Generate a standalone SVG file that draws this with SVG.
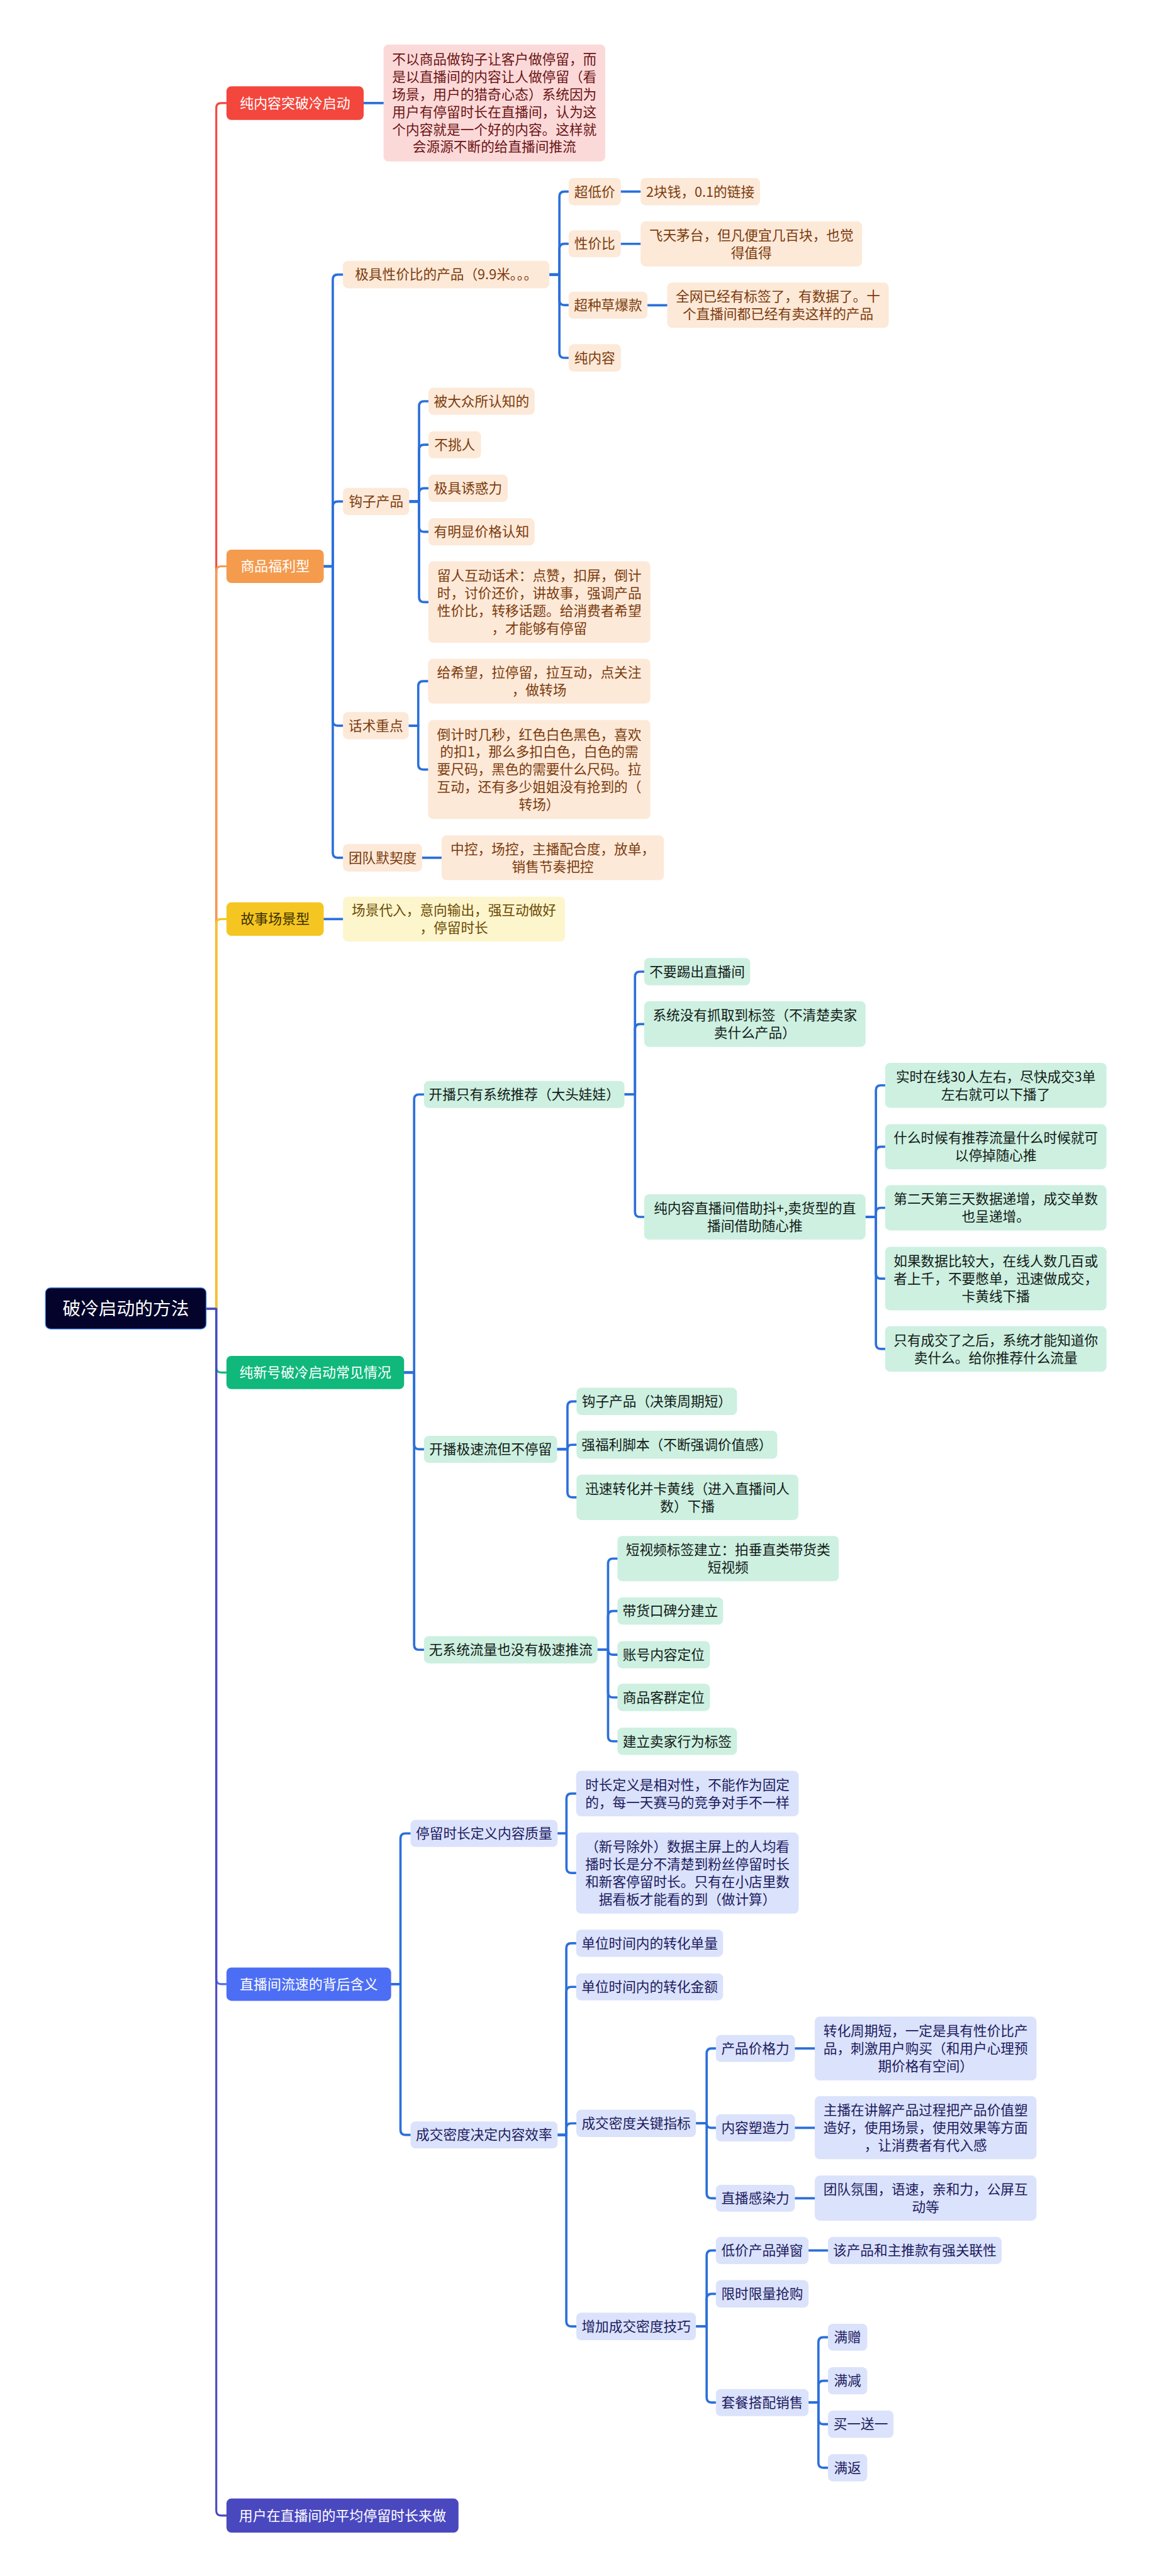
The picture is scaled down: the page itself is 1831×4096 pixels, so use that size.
<svg xmlns="http://www.w3.org/2000/svg" width="1831" height="4096" viewBox="0 0 1831 4096">
<style>
.t{font-family:"Noto Sans CJK SC","Noto Sans",sans-serif;font-size:8.3px;text-anchor:middle}
.mt{font-family:"Noto Sans CJK SC","Noto Sans",sans-serif;font-size:8.4px;text-anchor:middle;fill:#ffffff}
.rt{font-family:"Noto Sans CJK SC","Noto Sans",sans-serif;font-size:11px;text-anchor:middle;fill:#ffffff}
.pe{fill:#fde9d8}.pet{fill:#7b3b0d}
.pk{fill:#fcd9d9}.pkt{fill:#6a1414}
.ye{fill:#fdf5cc}.yet{fill:#6a4a04}
.mi{fill:#cdf0e1}.mit{fill:#121a16}
.la{fill:#dbe2fb}.lat{fill:#1b1b5e}
.c{fill:none;stroke:#2b6fdb;stroke-width:1.4;stroke-linejoin:round;stroke-linecap:round}
.tr{fill:none;stroke-width:1.2;stroke-linejoin:round}
</style>
<rect x="0" y="0" width="1831" height="4096" fill="#ffffff"/>
<g transform="scale(2.612)">
<g id="connectors">
<path class="tr" stroke="#f3463d" d="M125.4 796.7 H131.6 V65.75 Q131.6 62.75 134.6 62.75 H137.8"/>
<path class="tr" stroke="#f49b4e" d="M125.4 796.7 H131.6 V347.75 Q131.6 344.75 134.6 344.75 H137.8"/>
<path class="tr" stroke="#f5c622" d="M125.4 796.7 H131.6 V562.5 Q131.6 559.5 134.6 559.5 H137.8"/>
<path class="tr" stroke="#10b87c" d="M125.4 796.7 H131.6 V832.5 Q131.6 835.5 134.6 835.5 H137.8"/>
<path class="tr" stroke="#4c6ef5" d="M125.4 796.7 H131.6 V1204.85 Q131.6 1207.85 134.6 1207.85 H137.8"/>
<path class="tr" stroke="#4a48bf" d="M125.4 796.7 H131.6 V1528.35 Q131.6 1531.35 134.6 1531.35 H137.8"/>

<path class="c" d="M221.3 62.75 H233.4"/>

<path class="c" d="M197 344.75 H202.5 V170.15 Q202.5 167.15 205.5 167.15 H208.7"/>
<path class="c" d="M197 344.75 H202.5 V308.3 Q202.5 305.3 205.5 305.3 H208.7"/>
<path class="c" d="M197 344.75 H202.5 V438.75 Q202.5 441.75 205.5 441.75 H208.7"/>
<path class="c" d="M197 344.75 H202.5 V519.15 Q202.5 522.15 205.5 522.15 H208.7"/>

<path class="c" d="M334.3 167.15 H340.4 V119.65 Q340.4 116.65 343.4 116.65 H346"/>
<path class="c" d="M334.3 167.15 H340.4 V151.4 Q340.4 148.4 343.4 148.4 H346"/>
<path class="c" d="M334.3 167.15 H340.4 V182.75 Q340.4 185.75 343.4 185.75 H346"/>
<path class="c" d="M334.3 167.15 H340.4 V214.85 Q340.4 217.85 343.4 217.85 H346"/>
<path class="c" d="M377.8 116.65 H389.8"/>
<path class="c" d="M377.8 148.45 H389.8"/>
<path class="c" d="M394 185.8 H406"/>

<path class="c" d="M249 305.3 H255 V247.25 Q255 244.25 258 244.25 H260.7"/>
<path class="c" d="M249 305.3 H255 V273.75 Q255 270.75 258 270.75 H260.7"/>
<path class="c" d="M249 305.3 H255 V300.25 Q255 297.25 258 297.25 H260.7"/>
<path class="c" d="M249 305.3 H255 V320.75 Q255 323.75 258 323.75 H260.7"/>
<path class="c" d="M249 305.3 H255 V363.5 Q255 366.5 258 366.5 H260.7"/>

<path class="c" d="M248.7 441.75 H254.5 V417.65 Q254.5 414.65 257.5 414.65 H260.5"/>
<path class="c" d="M248.7 441.75 H254.5 V465.45 Q254.5 468.45 257.5 468.45 H260.5"/>
<path class="c" d="M256.9 522.15 H268.7"/>

<path class="c" d="M197 559.5 H208.7"/>

<path class="c" d="M245.9 835.5 H252 V669.25 Q252 666.25 255 666.25 H258"/>
<path class="c" d="M245.9 835.5 H252 V879.25 Q252 882.25 255 882.25 H258"/>
<path class="c" d="M245.9 835.5 H252 V1001.3 Q252 1004.3 255 1004.3 H258"/>

<path class="c" d="M380 666.25 H386.4 V594.5 Q386.4 591.5 389.4 591.5 H392"/>
<path class="c" d="M380 666.25 H386.4 V626.4 Q386.4 623.4 389.4 623.4 H392"/>
<path class="c" d="M380 666.25 H386.4 V737.8 Q386.4 740.8 389.4 740.8 H392"/>

<path class="c" d="M526.7 740.8 H533 V663.7 Q533 660.7 536 660.7 H538.6"/>
<path class="c" d="M526.7 740.8 H533 V701.05 Q533 698.05 536 698.05 H538.6"/>
<path class="c" d="M526.7 740.8 H533 V738.25 Q533 735.25 536 735.25 H538.6"/>
<path class="c" d="M526.7 740.8 H533 V775.35 Q533 778.35 536 778.35 H538.6"/>
<path class="c" d="M526.7 740.8 H533 V818.15 Q533 821.15 536 821.15 H538.6"/>

<path class="c" d="M339 882.25 H345.3 V856.1 Q345.3 853.1 348.3 853.1 H350.8"/>
<path class="c" d="M339 882.25 H345.3 Q345.3 879.5 348 879.5 H350.8"/>
<path class="c" d="M339 882.25 H345.3 V908.5 Q345.3 911.5 348.3 911.5 H350.8"/>

<path class="c" d="M363.6 1004.3 H370 V951.8 Q370 948.8 373 948.8 H375.7"/>
<path class="c" d="M363.6 1004.3 H370 V983.7 Q370 980.7 373 980.7 H375.7"/>
<path class="c" d="M363.6 1004.3 H370 Q370 1007.3 373 1007.3 H375.7"/>
<path class="c" d="M363.6 1004.3 H370 V1030.3 Q370 1033.3 373 1033.3 H375.7"/>
<path class="c" d="M363.6 1004.3 H370 V1057 Q370 1060 373 1060 H375.7"/>

<path class="c" d="M238 1207.85 H243.7 V1119.1 Q243.7 1116.1 246.7 1116.1 H249.8"/>
<path class="c" d="M238 1207.85 H243.7 V1296.6 Q243.7 1299.6 246.7 1299.6 H249.8"/>

<path class="c" d="M339.3 1116.1 H344.7 V1094.85 Q344.7 1091.85 347.7 1091.85 H350.6"/>
<path class="c" d="M339.3 1116.1 H344.7 V1137.2 Q344.7 1140.2 347.7 1140.2 H350.6"/>

<path class="c" d="M339.3 1299.6 H344.6 V1185.95 Q344.6 1182.95 347.6 1182.95 H350.6"/>
<path class="c" d="M339.3 1299.6 H344.6 V1212.5 Q344.6 1209.5 347.6 1209.5 H350.6"/>
<path class="c" d="M339.3 1299.6 H344.6 V1295.6 Q344.6 1292.6 347.6 1292.6 H350.6"/>
<path class="c" d="M339.3 1299.6 H344.6 V1413.2 Q344.6 1416.2 347.6 1416.2 H350.6"/>

<path class="c" d="M423.5 1292.6 H430 V1250 Q430 1247 433 1247 H435.6"/>
<path class="c" d="M423.5 1292.6 H430 Q430 1295.3 432.7 1295.3 H435.6"/>
<path class="c" d="M423.5 1292.6 H430 V1335.2 Q430 1338.2 433 1338.2 H435.6"/>
<path class="c" d="M483.7 1247 H495.8"/>
<path class="c" d="M483.7 1295.3 H495.8"/>
<path class="c" d="M483.7 1338.2 H495.8"/>

<path class="c" d="M423.5 1416.2 H430 V1373 Q430 1370 433 1370 H435.6"/>
<path class="c" d="M423.5 1416.2 H430 V1399.4 Q430 1396.4 433 1396.4 H435.6"/>
<path class="c" d="M423.5 1416.2 H430 V1459.55 Q430 1462.55 433 1462.55 H435.6"/>
<path class="c" d="M492 1370 H503.8"/>

<path class="c" d="M492 1462.55 H498 V1425.8 Q498 1422.8 501 1422.8 H503.8"/>
<path class="c" d="M492 1462.55 H498 V1452.3 Q498 1449.3 501 1449.3 H503.8"/>
<path class="c" d="M492 1462.55 H498 V1472.75 Q498 1475.75 501 1475.75 H503.8"/>
<path class="c" d="M492 1462.55 H498 V1499.25 Q498 1502.25 501 1502.25 H503.8"/>
</g>

<g id="root"><rect x="27.7" y="784" width="97.7" height="25" rx="3" fill="#03032b" stroke="#2f6fd6" stroke-width="0.5"/><text class="rt" x="76.55" y="800.4">破冷启动的方法</text></g>

<g id="m1"><rect x="137.8" y="52.5" width="83.5" height="20.5" rx="3" fill="#f3463d"/><text class="mt" x="179.55" y="65.8">纯内容突破冷启动</text></g>
<g id="m1a"><rect class="pk" x="233.4" y="27.1" width="134.9" height="71.2" rx="3"/><text class="t pkt"><tspan x="300.85" y="38.95">不以商品做钩子让客户做停留，而</tspan><tspan x="300.85" y="49.65">是以直播间的内容让人做停留（看</tspan><tspan x="300.85" y="60.35">场景，用户的猎奇心态）系统因为</tspan><tspan x="300.85" y="71.05">用户有停留时长在直播间，认为这</tspan><tspan x="300.85" y="81.75">个内容就是一个好的内容。这样就</tspan><tspan x="300.85" y="92.45">会源源不断的给直播间推流</tspan></text></g>

<g id="m2"><rect x="137.8" y="334.6" width="59.2" height="20.3" rx="3" fill="#f49b4e"/><text class="mt" x="167.4" y="347.8">商品福利型</text></g>
<g id="o1"><rect class="pe" x="208.7" y="158.8" width="125.6" height="16.7" rx="3"/><text class="t pet" x="271.5" y="170.15">极具性价比的产品（9.9米。。。</text></g>
<g id="o1a"><rect class="pe" x="346" y="108.3" width="31.8" height="16.7" rx="3"/><text class="t pet" x="361.9" y="119.65">超低价</text></g>
<g id="o1a1"><rect class="pe" x="389.8" y="108.3" width="72.7" height="16.7" rx="3"/><text class="t pet" x="426.15" y="119.65">2块钱，0.1的链接</text></g>
<g id="o1b"><rect class="pe" x="346" y="140.2" width="31.8" height="16.4" rx="3"/><text class="t pet" x="361.9" y="151.4">性价比</text></g>
<g id="o1b1"><rect class="pe" x="389.8" y="134.8" width="134.8" height="27.4" rx="3"/><text class="t pet"><tspan x="457.2" y="146.15">飞天茅台，但凡便宜几百块，也觉</tspan><tspan x="457.2" y="156.85">得值得</tspan></text></g>
<g id="o1c"><rect class="pe" x="346" y="177.5" width="48" height="16.5" rx="3"/><text class="t pet" x="370" y="188.75">超种草爆款</text></g>
<g id="o1c1"><rect class="pe" x="406" y="172" width="134.8" height="27.6" rx="3"/><text class="t pet"><tspan x="473.4" y="183.45">全网已经有标签了，有数据了。十</tspan><tspan x="473.4" y="194.15">个直播间都已经有卖这样的产品</tspan></text></g>
<g id="o1d"><rect class="pe" x="346" y="209.5" width="31.8" height="16.7" rx="3"/><text class="t pet" x="361.9" y="220.85">纯内容</text></g>
<g id="o2"><rect class="pe" x="208.7" y="297" width="40.3" height="16.6" rx="3"/><text class="t pet" x="228.85" y="308.3">钩子产品</text></g>
<g id="o2a"><rect class="pe" x="260.7" y="236" width="64.6" height="16.5" rx="3"/><text class="t pet" x="293" y="247.25">被大众所认知的</text></g>
<g id="o2b"><rect class="pe" x="260.7" y="262.5" width="32" height="16.5" rx="3"/><text class="t pet" x="276.7" y="273.75">不挑人</text></g>
<g id="o2c"><rect class="pe" x="260.7" y="289" width="48.3" height="16.5" rx="3"/><text class="t pet" x="284.85" y="300.25">极具诱惑力</text></g>
<g id="o2d"><rect class="pe" x="260.7" y="315.5" width="64.6" height="16.5" rx="3"/><text class="t pet" x="293" y="326.75">有明显价格认知</text></g>
<g id="o2e"><rect class="pe" x="260.7" y="341.7" width="135" height="49.6" rx="3"/><text class="t pet"><tspan x="328.2" y="353.45">留人互动话术：点赞，扣屏，倒计</tspan><tspan x="328.2" y="364.15">时，讨价还价，讲故事，强调产品</tspan><tspan x="328.2" y="374.85">性价比，转移话题。给消费者希望</tspan><tspan x="328.2" y="385.55">，才能够有停留</tspan></text></g>
<g id="o3"><rect class="pe" x="208.7" y="433.5" width="40" height="16.5" rx="3"/><text class="t pet" x="228.7" y="444.75">话术重点</text></g>
<g id="o3a"><rect class="pe" x="260.5" y="401" width="135.2" height="27.3" rx="3"/><text class="t pet"><tspan x="328.1" y="412.3">给希望，拉停留，拉互动，点关注</tspan><tspan x="328.1" y="423">，做转场</tspan></text></g>
<g id="o3b"><rect class="pe" x="260.5" y="438.3" width="135.2" height="60.3" rx="3"/><text class="t pet"><tspan x="328.1" y="450.05">倒计时几秒，红色白色黑色，喜欢</tspan><tspan x="328.1" y="460.75">的扣1，那么多扣白色，白色的需</tspan><tspan x="328.1" y="471.45">要尺码，黑色的需要什么尺码。拉</tspan><tspan x="328.1" y="482.15">互动，还有多少姐姐没有抢到的（</tspan><tspan x="328.1" y="492.85">转场）</tspan></text></g>
<g id="o4"><rect class="pe" x="208.7" y="513.8" width="48.2" height="16.7" rx="3"/><text class="t pet" x="232.8" y="525.15">团队默契度</text></g>
<g id="o4a"><rect class="pe" x="268.7" y="508.5" width="135.3" height="27.3" rx="3"/><text class="t pet"><tspan x="336.35" y="519.8">中控，场控，主播配合度，放单，</tspan><tspan x="336.35" y="530.5">销售节奏把控</tspan></text></g>

<g id="m3"><rect x="137.8" y="549.3" width="59.2" height="20.4" rx="3" fill="#f5c622"/><text class="mt" x="167.4" y="562.5" style="fill:#3a3000">故事场景型</text></g>
<g id="y1"><rect class="ye" x="208.7" y="545.8" width="135.1" height="27.4" rx="3"/><text class="t yet"><tspan x="276.25" y="557.15">场景代入，意向输出，强互动做好</tspan><tspan x="276.25" y="567.85">，停留时长</tspan></text></g>

<g id="m4"><rect x="137.8" y="825.4" width="108.1" height="20.2" rx="3" fill="#10b87c"/><text class="mt" x="191.85" y="838.5">纯新号破冷启动常见情况</text></g>
<g id="g1"><rect class="mi" x="258" y="658" width="122" height="16.5" rx="3"/><text class="t mit" x="319" y="669.25">开播只有系统推荐（大头娃娃）</text></g>
<g id="g1a"><rect class="mi" x="392" y="583.2" width="64.5" height="16.6" rx="3"/><text class="t mit" x="424.25" y="594.5">不要踢出直播间</text></g>
<g id="g1b"><rect class="mi" x="392" y="609.5" width="134.7" height="27.8" rx="3"/><text class="t mit"><tspan x="459.35" y="621.05">系统没有抓取到标签（不清楚卖家</tspan><tspan x="459.35" y="631.75">卖什么产品）</tspan></text></g>
<g id="g1c"><rect class="mi" x="392" y="727" width="134.7" height="27.6" rx="3"/><text class="t mit"><tspan x="459.35" y="738.45">纯内容直播间借助抖+,卖货型的直</tspan><tspan x="459.35" y="749.15">播间借助随心推</tspan></text></g>
<g id="g1c1"><rect class="mi" x="538.6" y="647" width="134.7" height="27.4" rx="3"/><text class="t mit"><tspan x="605.95" y="658.35">实时在线30人左右，尽快成交3单</tspan><tspan x="605.95" y="669.05">左右就可以下播了</tspan></text></g>
<g id="g1c2"><rect class="mi" x="538.6" y="684.3" width="134.7" height="27.5" rx="3"/><text class="t mit"><tspan x="605.95" y="695.7">什么时候有推荐流量什么时候就可</tspan><tspan x="605.95" y="706.4">以停掉随心推</tspan></text></g>
<g id="g1c3"><rect class="mi" x="538.6" y="721.5" width="134.7" height="27.5" rx="3"/><text class="t mit"><tspan x="605.95" y="732.9">第二天第三天数据递增，成交单数</tspan><tspan x="605.95" y="743.6">也呈递增。</tspan></text></g>
<g id="g1c4"><rect class="mi" x="538.6" y="759" width="134.7" height="38.7" rx="3"/><text class="t mit"><tspan x="605.95" y="770.65">如果数据比较大，在线人数几百或</tspan><tspan x="605.95" y="781.35">者上千，不要憋单，迅速做成交，</tspan><tspan x="605.95" y="792.05">卡黄线下播</tspan></text></g>
<g id="g1c5"><rect class="mi" x="538.6" y="807.3" width="134.7" height="27.7" rx="3"/><text class="t mit"><tspan x="605.95" y="818.8">只有成交了之后，系统才能知道你</tspan><tspan x="605.95" y="829.5">卖什么。给你推荐什么流量</tspan></text></g>
<g id="g2"><rect class="mi" x="258" y="874" width="81" height="16.5" rx="3"/><text class="t mit" x="298.5" y="885.25">开播极速流但不停留</text></g>
<g id="g2a"><rect class="mi" x="350.8" y="844.8" width="97.7" height="16.6" rx="3"/><text class="t mit" x="399.65" y="856.1">钩子产品（决策周期短）</text></g>
<g id="g2b"><rect class="mi" x="350.8" y="871" width="122.2" height="17" rx="3"/><text class="t mit" x="411.9" y="882.5">强福利脚本（不断强调价值感）</text></g>
<g id="g2c"><rect class="mi" x="350.8" y="897.7" width="135" height="27.6" rx="3"/><text class="t mit"><tspan x="418.3" y="909.15">迅速转化并卡黄线（进入直播间人</tspan><tspan x="418.3" y="919.85">数）下播</tspan></text></g>
<g id="g3"><rect class="mi" x="258" y="996" width="105.6" height="16.6" rx="3"/><text class="t mit" x="310.8" y="1007.3">无系统流量也没有极速推流</text></g>
<g id="g3a"><rect class="mi" x="375.7" y="935" width="134.7" height="27.6" rx="3"/><text class="t mit"><tspan x="443.05" y="946.45">短视频标签建立：拍垂直类带货类</tspan><tspan x="443.05" y="957.15">短视频</tspan></text></g>
<g id="g3b"><rect class="mi" x="375.7" y="972.4" width="64.3" height="16.6" rx="3"/><text class="t mit" x="407.85" y="983.7">带货口碑分建立</text></g>
<g id="g3c"><rect class="mi" x="375.7" y="999" width="56.3" height="16.6" rx="3"/><text class="t mit" x="403.85" y="1010.3">账号内容定位</text></g>
<g id="g3d"><rect class="mi" x="375.7" y="1025" width="56.3" height="16.6" rx="3"/><text class="t mit" x="403.85" y="1036.3">商品客群定位</text></g>
<g id="g3e"><rect class="mi" x="375.7" y="1051.7" width="72.8" height="16.6" rx="3"/><text class="t mit" x="412.1" y="1063">建立卖家行为标签</text></g>

<g id="m5"><rect x="137.8" y="1197.7" width="100.2" height="20.3" rx="3" fill="#4c6ef5"/><text class="mt" x="187.9" y="1210.9">直播间流速的背后含义</text></g>
<g id="b1"><rect class="la" x="249.8" y="1107.9" width="89.5" height="16.4" rx="3"/><text class="t lat" x="294.55" y="1119.1">停留时长定义内容质量</text></g>
<g id="b1a"><rect class="la" x="350.6" y="1078" width="135.4" height="27.7" rx="3"/><text class="t lat"><tspan x="418.3" y="1089.5">时长定义是相对性，不能作为固定</tspan><tspan x="418.3" y="1100.2">的，每一天赛马的竞争对手不一样</tspan></text></g>
<g id="b1b"><rect class="la" x="350.6" y="1115.5" width="135.4" height="49.4" rx="3"/><text class="t lat"><tspan x="418.3" y="1127.15">（新号除外）数据主屏上的人均看</tspan><tspan x="418.3" y="1137.85">播时长是分不清楚到粉丝停留时长</tspan><tspan x="418.3" y="1148.55">和新客停留时长。只有在小店里数</tspan><tspan x="418.3" y="1159.25">据看板才能看的到（做计算）</tspan></text></g>
<g id="b2"><rect class="la" x="249.8" y="1291.4" width="89.5" height="16.4" rx="3"/><text class="t lat" x="294.55" y="1302.6">成交密度决定内容效率</text></g>
<g id="b2a"><rect class="la" x="350.6" y="1174.7" width="89.4" height="16.5" rx="3"/><text class="t lat" x="395.3" y="1185.95">单位时间内的转化单量</text></g>
<g id="b2b"><rect class="la" x="350.6" y="1201.3" width="89.4" height="16.4" rx="3"/><text class="t lat" x="395.3" y="1212.5">单位时间内的转化金额</text></g>
<g id="b2c"><rect class="la" x="350.7" y="1284.3" width="72.8" height="16.6" rx="3"/><text class="t lat" x="387.1" y="1295.6">成交密度关键指标</text></g>
<g id="b2c1"><rect class="la" x="435.6" y="1238.8" width="48.1" height="16.4" rx="3"/><text class="t lat" x="459.65" y="1250">产品价格力</text></g>
<g id="b2c1a"><rect class="la" x="495.8" y="1227.6" width="134.9" height="38.9" rx="3"/><text class="t lat"><tspan x="563.25" y="1239.35">转化周期短，一定是具有性价比产</tspan><tspan x="563.25" y="1250.05">品，刺激用户购买（和用户心理预</tspan><tspan x="563.25" y="1260.75">期价格有空间）</tspan></text></g>
<g id="b2c2"><rect class="la" x="435.6" y="1287" width="48.1" height="16.6" rx="3"/><text class="t lat" x="459.65" y="1298.3">内容塑造力</text></g>
<g id="b2c2a"><rect class="la" x="495.8" y="1276" width="134.9" height="38.4" rx="3"/><text class="t lat"><tspan x="563.25" y="1287.5">主播在讲解产品过程把产品价值塑</tspan><tspan x="563.25" y="1298.2">造好，使用场景，使用效果等方面</tspan><tspan x="563.25" y="1308.9">，让消费者有代入感</tspan></text></g>
<g id="b2c3"><rect class="la" x="435.6" y="1330" width="48.1" height="16.4" rx="3"/><text class="t lat" x="459.65" y="1341.2">直播感染力</text></g>
<g id="b2c3a"><rect class="la" x="495.8" y="1324.4" width="134.9" height="27.4" rx="3"/><text class="t lat"><tspan x="563.25" y="1335.75">团队氛围，语速，亲和力，公屏互</tspan><tspan x="563.25" y="1346.45">动等</tspan></text></g>
<g id="b2d"><rect class="la" x="350.7" y="1407.8" width="72.8" height="16.8" rx="3"/><text class="t lat" x="387.1" y="1419.2">增加成交密度技巧</text></g>
<g id="b2d1"><rect class="la" x="435.6" y="1361.7" width="56.4" height="16.6" rx="3"/><text class="t lat" x="463.8" y="1373">低价产品弹窗</text></g>
<g id="b2d1a"><rect class="la" x="503.8" y="1361.7" width="105.7" height="16.6" rx="3"/><text class="t lat" x="556.65" y="1373">该产品和主推款有强关联性</text></g>
<g id="b2d2"><rect class="la" x="435.6" y="1388" width="56.4" height="16.8" rx="3"/><text class="t lat" x="463.8" y="1399.4">限时限量抢购</text></g>
<g id="b2d3"><rect class="la" x="435.6" y="1454.3" width="56.4" height="16.5" rx="3"/><text class="t lat" x="463.8" y="1465.55">套餐搭配销售</text></g>
<g id="b2d3a"><rect class="la" x="503.8" y="1414.6" width="23.9" height="16.4" rx="3"/><text class="t lat" x="515.75" y="1425.8">满赠</text></g>
<g id="b2d3b"><rect class="la" x="503.8" y="1441" width="23.9" height="16.6" rx="3"/><text class="t lat" x="515.75" y="1452.3">满减</text></g>
<g id="b2d3c"><rect class="la" x="503.8" y="1467.5" width="39.9" height="16.5" rx="3"/><text class="t lat" x="523.75" y="1478.75">买一送一</text></g>
<g id="b2d3d"><rect class="la" x="503.8" y="1494" width="23.9" height="16.5" rx="3"/><text class="t lat" x="515.75" y="1505.25">满返</text></g>

<g id="m6"><rect x="137.8" y="1521" width="141.2" height="20.7" rx="3" fill="#4a48bf"/><text class="mt" x="208.4" y="1534.4">用户在直播间的平均停留时长来做</text></g>
</g>
</svg>
